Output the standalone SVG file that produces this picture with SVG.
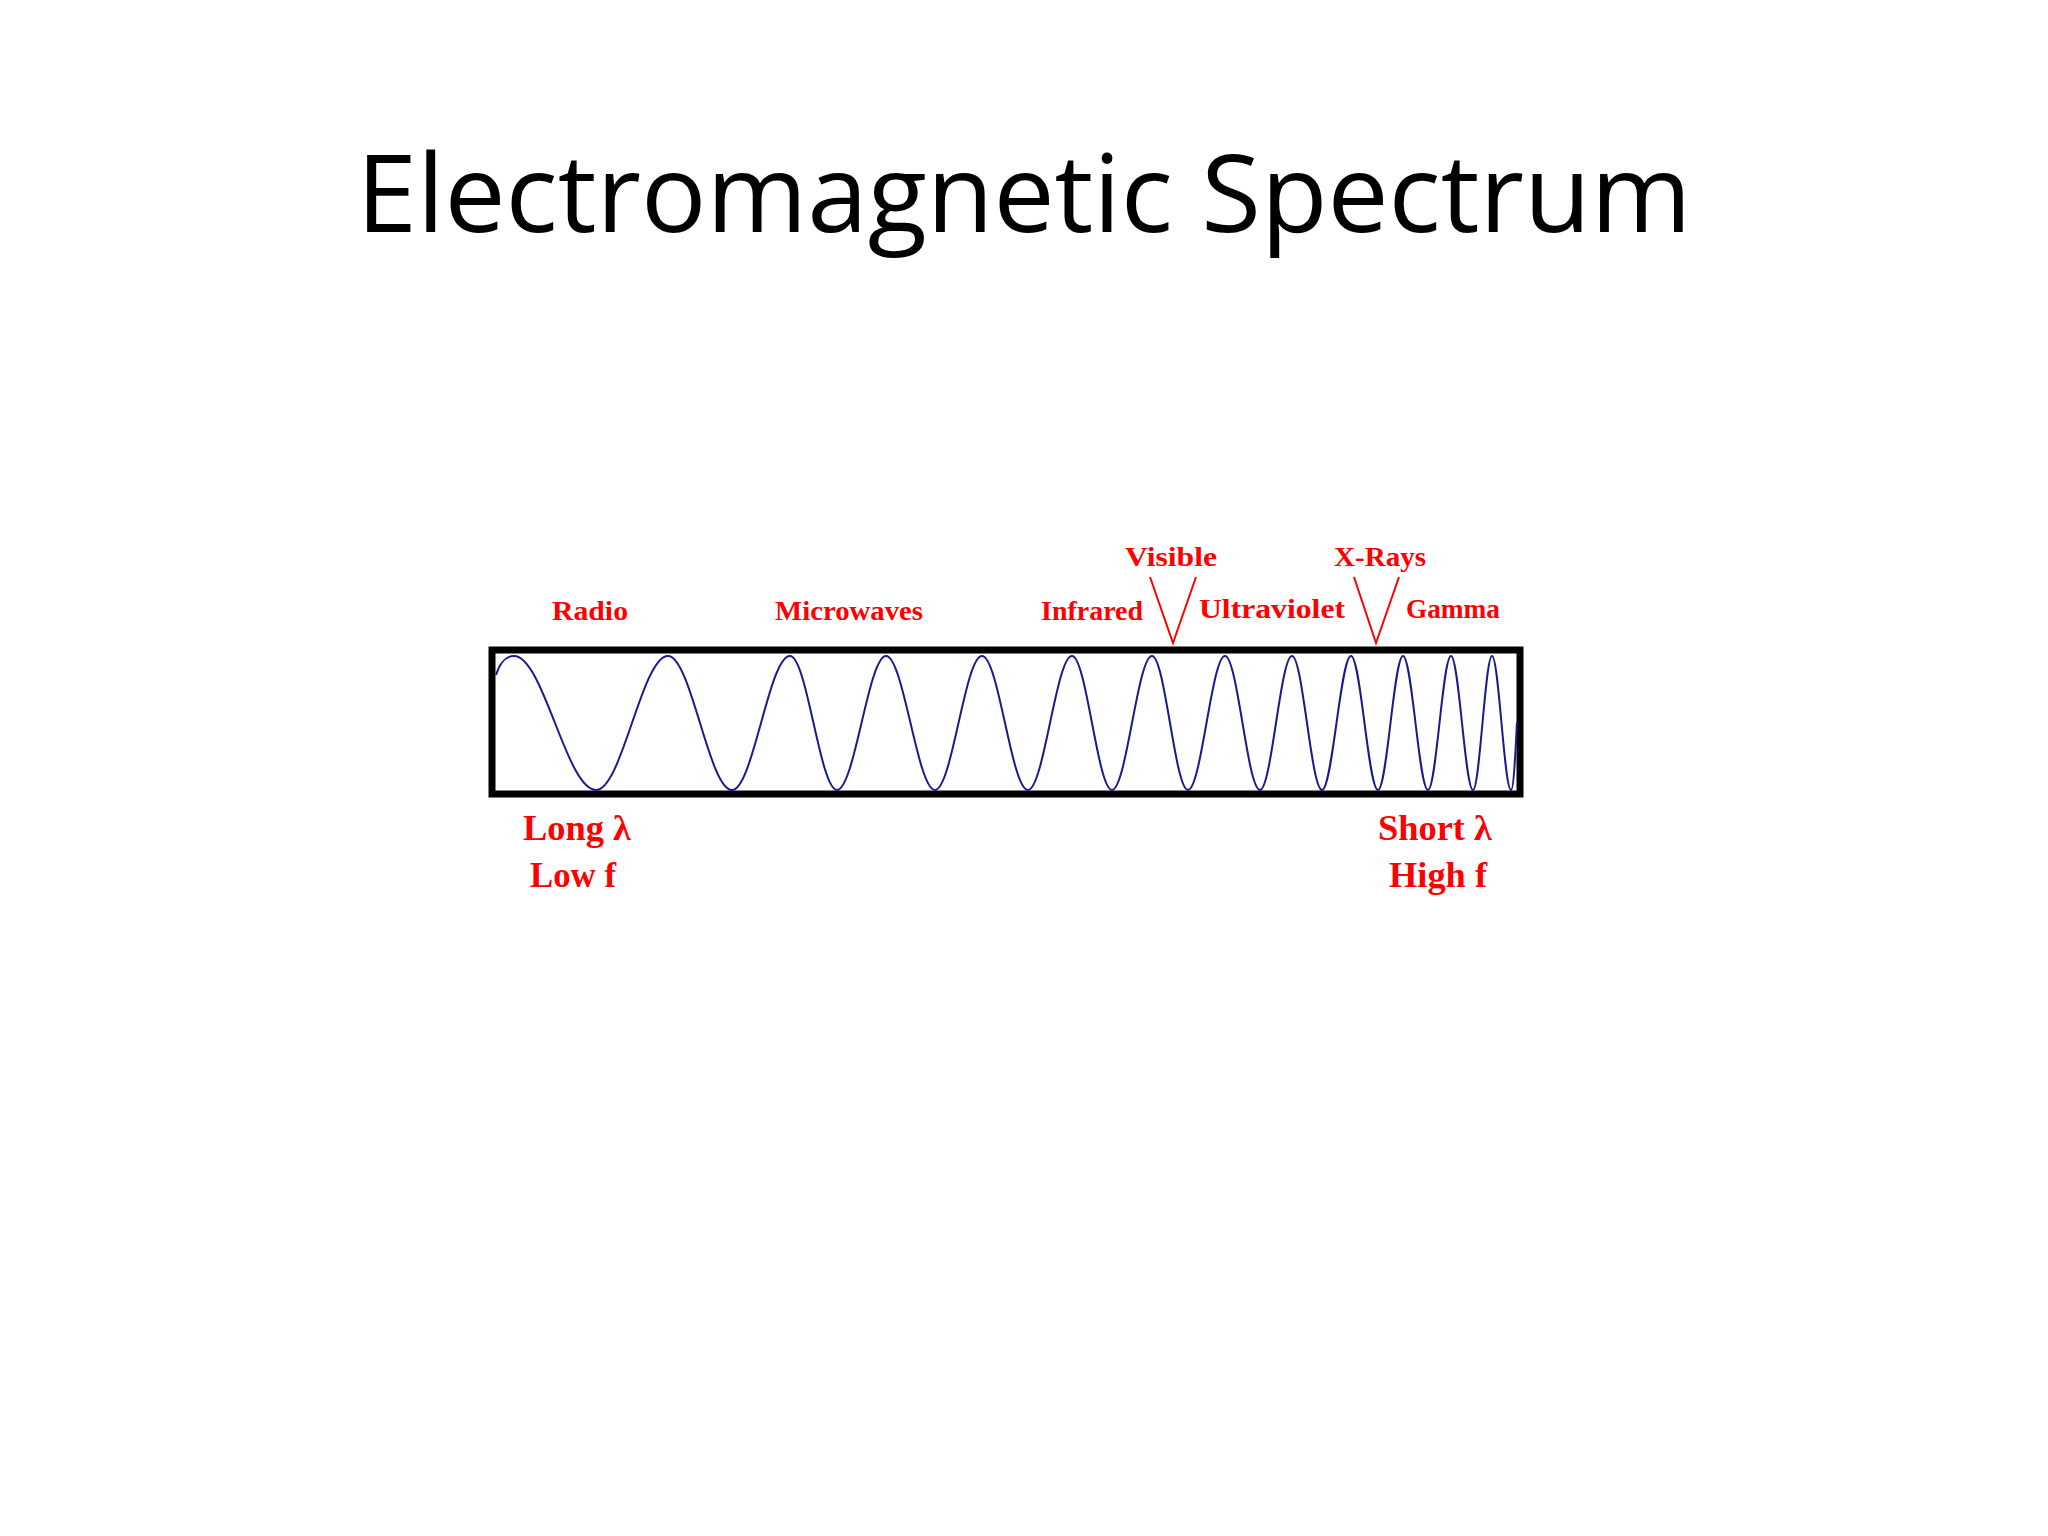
<svg xmlns="http://www.w3.org/2000/svg" width="2048" height="1536" viewBox="0 0 2048 1536">
<style>
.lbl{font-family:"Liberation Serif",serif;font-weight:bold;fill:#ff0000;text-anchor:middle;font-size:28px}
.big{font-size:36px}
.v{fill:none;stroke:#ff0000;stroke-width:2}
</style>
<rect width="2048" height="1536" fill="#fff"/>
<text x="1024" y="232" font-family="Open Sans, sans-serif" font-size="108" text-anchor="middle" textLength="1335" lengthAdjust="spacingAndGlyphs">Electromagnetic Spectrum</text>
<g id="spectrum">
<rect x="492" y="650" width="1028" height="144" fill="none" stroke="#000" stroke-width="7"/>
<path fill="none" stroke="#1a1a8c" stroke-width="2" d="M496,675 C500,662 507,656 514,656 C543.5,656 566.5,790 596,790 C622,790 642,656 668,656 C691,656 709,790 732,790 C753,790 769,656 790,656 C807,656 820,790 837,790 C854.6,790 868.4,656 886,656 C903.6,656 917.4,790 935,790 C952,790 965,656 982,656 C998.6,656 1011.4,790 1028,790 C1043.8,790 1056.2,656 1072,656 C1086.4,656 1097.6,790 1112,790 C1126.4,790 1137.6,656 1152,656 C1165,656 1175,790 1188,790 C1201.3,790 1211.7,656 1225,656 C1237.6,656 1247.4,790 1260,790 C1271.5,790 1280.5,656 1292,656 C1302.8,656 1311.2,790 1322,790 C1332.4,790 1340.6,656 1351,656 C1360.7,656 1368.3,790 1378,790 C1387,790 1394,656 1403,656 C1412,656 1419,790 1428,790 C1436.3,790 1442.7,656 1451,656 C1458.9,656 1465.1,790 1473,790 C1479.8,790 1485.2,656 1492,656 C1498.8,656 1504.2,790 1511,790 C1514,790 1516,740 1517,722"/>
</g>
<g id="labels">
<text class="lbl" x="590" y="620" textLength="76" lengthAdjust="spacingAndGlyphs">Radio</text>
<text class="lbl" x="849" y="620" textLength="148" lengthAdjust="spacingAndGlyphs">Microwaves</text>
<text class="lbl" x="1092" y="620" textLength="102" lengthAdjust="spacingAndGlyphs">Infrared</text>
<text class="lbl" x="1171" y="566" textLength="92" lengthAdjust="spacingAndGlyphs">Visible</text>
<text class="lbl" x="1272" y="618" textLength="146" lengthAdjust="spacingAndGlyphs">Ultraviolet</text>
<text class="lbl" x="1380" y="566" textLength="92" lengthAdjust="spacingAndGlyphs">X-Rays</text>
<text class="lbl" x="1453" y="618" textLength="94" lengthAdjust="spacingAndGlyphs">Gamma</text>
<text class="lbl big" x="577" y="840" textLength="108" lengthAdjust="spacingAndGlyphs">Long λ</text>
<text class="lbl big" x="573" y="887" textLength="86" lengthAdjust="spacingAndGlyphs">Low f</text>
<text class="lbl big" x="1435" y="840" textLength="114" lengthAdjust="spacingAndGlyphs">Short λ</text>
<text class="lbl big" x="1438" y="887" textLength="98" lengthAdjust="spacingAndGlyphs">High f</text>
</g>
<g id="connectors">
<polyline class="v" points="1150,577 1173,643 1196,577"/>
<polyline class="v" points="1354,577 1376,643 1399,577"/>
</g>
</svg>
